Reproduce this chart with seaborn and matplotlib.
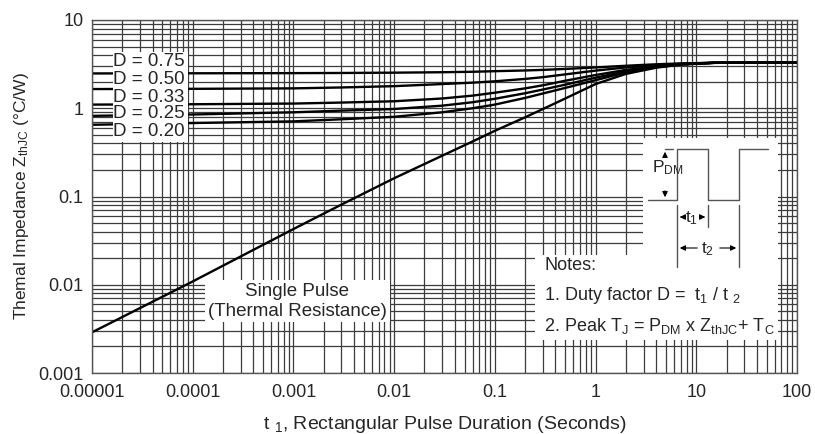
import numpy as np
import pandas as pd
import matplotlib
matplotlib.use('Agg')
import matplotlib.pyplot as plt
import matplotlib.ticker as mticker
from matplotlib.patches import Rectangle
import seaborn as sns

# valeurs (t1 en s, Zth en °C/W)
t1 = [1e-5, 1e-4, 1e-3, 3e-3, 1e-2, 0.03, 0.06, 0.1, 0.2, 0.3, 0.5, 1, 2, 4, 7, 15, 100]
z_single = [0.00289, 0.0109, 0.0428, 0.081, 0.161, 0.29, 0.42, 0.555, 0.79, 0.98, 1.29,
            1.88, 2.45, 2.88, 3.12, 3.27, 3.30]
z_d020 = [0.65, 0.68, 0.71, 0.75, 0.80, 0.90, 1.00, 1.10, 1.31, 1.47, 1.70,
          2.08, 2.55, 2.92, 3.14, 3.27, 3.30]
z_d025 = [0.82, 0.85, 0.90, 0.94, 0.98, 1.07, 1.17, 1.28, 1.48, 1.63, 1.85,
          2.22, 2.62, 2.95, 3.15, 3.27, 3.30]
z_d033 = [1.10, 1.11, 1.13, 1.16, 1.20, 1.29, 1.39, 1.50, 1.68, 1.82, 2.05,
          2.38, 2.72, 2.99, 3.16, 3.27, 3.30]
z_d050 = [1.65, 1.66, 1.68, 1.72, 1.78, 1.88, 1.95, 2.02, 2.15, 2.25, 2.42,
          2.67, 2.90, 3.08, 3.19, 3.28, 3.30]
z_d075 = [2.48, 2.49, 2.50, 2.51, 2.53, 2.56, 2.59, 2.63, 2.68, 2.72, 2.79,
          2.90, 3.03, 3.15, 3.22, 3.28, 3.30]

courbes = ['single', 'D=0.20', 'D=0.25', 'D=0.33', 'D=0.50', 'D=0.75']
d_labels = ['D = 0.75', 'D = 0.50', 'D = 0.33', 'D = 0.25', 'D = 0.20']
x_ticks = [1e-5, 1e-4, 1e-3, 1e-2, 1e-1, 1, 10, 100]
x_ticklabels = ['0.00001', '0.0001', '0.001', '0.01', '0.1', '1', '10', '100']
y_ticks = [1e-3, 1e-2, 1e-1, 1, 10]
y_ticklabels = ['0.001', '0.01', '0.1', '1', '10']

df = pd.DataFrame({
    't': t1 * 6,
    'z': z_single + z_d020 + z_d025 + z_d033 + z_d050 + z_d075,
    'courbe': np.repeat(courbes, len(t1)),
})

sns.set_style('white')
plt.rcParams['font.family'] = ['Liberation Sans', 'DejaVu Sans']
plt.rcParams['mathtext.fontset'] = 'custom'
plt.rcParams['mathtext.rm'] = 'Liberation Sans'
plt.rcParams['mathtext.it'] = 'Liberation Sans'
plt.rcParams['mathtext.default'] = 'regular'

W, H = 815, 434
fig = plt.figure(figsize=(W / 100, H / 100), dpi=100)
L, R, T, B = 92, 797, 20, 373
ax = fig.add_axes([L / W, 1 - B / H, (R - L) / W, (B - T) / H])


def P(x, y):
    # position en pixels de l'image -> coordonnées axes
    return ((x - L) / (R - L), (B - y) / (B - T))


sns.lineplot(data=df, x='t', y='z', units='courbe', estimator=None,
             color='black', linewidth=1.7, ax=ax, legend=False)
ax.set_xscale('log')
ax.set_yscale('log')
ax.set_xlim(1e-5, 100)
ax.set_ylim(1e-3, 10)

ax.xaxis.set_major_locator(mticker.FixedLocator(x_ticks))
ax.yaxis.set_major_locator(mticker.FixedLocator(y_ticks))
ax.xaxis.set_minor_locator(mticker.LogLocator(base=10, subs=np.arange(2, 10), numticks=100))
ax.yaxis.set_minor_locator(mticker.LogLocator(base=10, subs=np.arange(2, 10), numticks=100))
ax.xaxis.set_minor_formatter(mticker.NullFormatter())
ax.yaxis.set_minor_formatter(mticker.NullFormatter())
ax.set_xticklabels(x_ticklabels)
ax.set_yticklabels(y_ticklabels)
ax.tick_params(which='both', length=0, labelsize=13)
ax.tick_params(axis='x', pad=8)
ax.tick_params(axis='y', pad=6)
ax.set_axisbelow(True)
ax.grid(True, which='both', color='#3c3c3c', linewidth=0.9)
for s in ax.spines.values():
    s.set_color('#555555')
    s.set_linewidth(1)

ax.set_xlabel('t $_{1}$, Rectangular Pulse Duration (Seconds)', fontsize=14, labelpad=9)
ax.set_ylabel('Themal Impedance Z$_{thJC}$ (°C/W)', fontsize=12.5, labelpad=5)


def boite(x0, y0, x1, y1):
    a = P(x0, y1)
    b = P(x1, y0)
    ax.add_patch(Rectangle(a, b[0] - a[0], b[1] - a[1], transform=ax.transAxes,
                           facecolor='white', edgecolor='none', zorder=3, clip_on=False))


# étiquettes des rapports cycliques
boite(113, 52, 188, 142)
for lab, yy in zip(d_labels, [62, 79, 97, 114, 131]):
    ax.text(*P(113, yy), lab, transform=ax.transAxes, fontsize=13.5,
            ha='left', va='center', zorder=4)

# impulsion unique
boite(205, 280, 390, 322)
ax.text(*P(297, 291), 'Single Pulse', transform=ax.transAxes, fontsize=13.5,
        ha='center', va='center', zorder=4)
ax.text(*P(297, 311), '(Thermal Resistance)', transform=ax.transAxes, fontsize=13.5,
        ha='center', va='center', zorder=4)

# notes
boite(535, 255, 778, 340)
ax.text(*P(544, 266), 'Notes:', transform=ax.transAxes, fontsize=13,
        ha='left', va='center', zorder=4)
ax.text(*P(544, 296), '1. Duty factor D =  t$_{1}$ / t $_{2}$', transform=ax.transAxes,
        fontsize=13, ha='left', va='center', zorder=4)
ax.text(*P(544, 326), '2. Peak T$_{J}$ = P$_{DM}$ x Z$_{thJC}$+ T$_{C}$', transform=ax.transAxes,
        fontsize=13, ha='left', va='center', zorder=4)

# schéma de l'impulsion
boite(643, 138, 778, 255)
gris = '#555555'
onde_x = [648, 677, 677, 708, 708, 739, 739, 768]
onde_y = [200, 200, 149, 149, 200, 200, 149, 149]
pts = [P(a, b) for a, b in zip(onde_x, onde_y)]
ax.plot([p[0] for p in pts], [p[1] for p in pts], color=gris, lw=1,
        transform=ax.transAxes, zorder=4, clip_on=False)
for (xa, ya), (xb, yb) in [((665, 149), (673, 149)), ((677, 205), (677, 267)),
                           ((708, 205), (708, 227)), ((739, 205), (739, 267))]:
    pa, pb = P(xa, ya), P(xb, yb)
    ax.plot([pa[0], pb[0]], [pa[1], pb[1]], color=gris, lw=1,
            transform=ax.transAxes, zorder=4, clip_on=False)

fleche = dict(arrowstyle='-|>', color='black', lw=0.8, mutation_scale=8)
for depart, arrivee in [((665, 160), (665, 149)), ((665, 188), (665, 200)),
                        ((685, 217), (677, 217)), ((700, 217), (708, 217)),
                        ((700, 248), (677, 248)), ((717, 248), (739, 248))]:
    ax.annotate('', xy=P(*arrivee), xytext=P(*depart), xycoords='axes fraction',
                textcoords='axes fraction', arrowprops=fleche, zorder=5)
ax.text(*P(668, 168), 'P$_{DM}$', transform=ax.transAxes, fontsize=12.5,
        ha='center', va='center', zorder=5)
ax.text(*P(692, 218), 't$_{1}$', transform=ax.transAxes, fontsize=12.5,
        ha='center', va='center', zorder=5)
ax.text(*P(708, 249), 't$_{2}$', transform=ax.transAxes, fontsize=12.5,
        ha='center', va='center', zorder=5)

fig.savefig('out.png', dpi=100)
